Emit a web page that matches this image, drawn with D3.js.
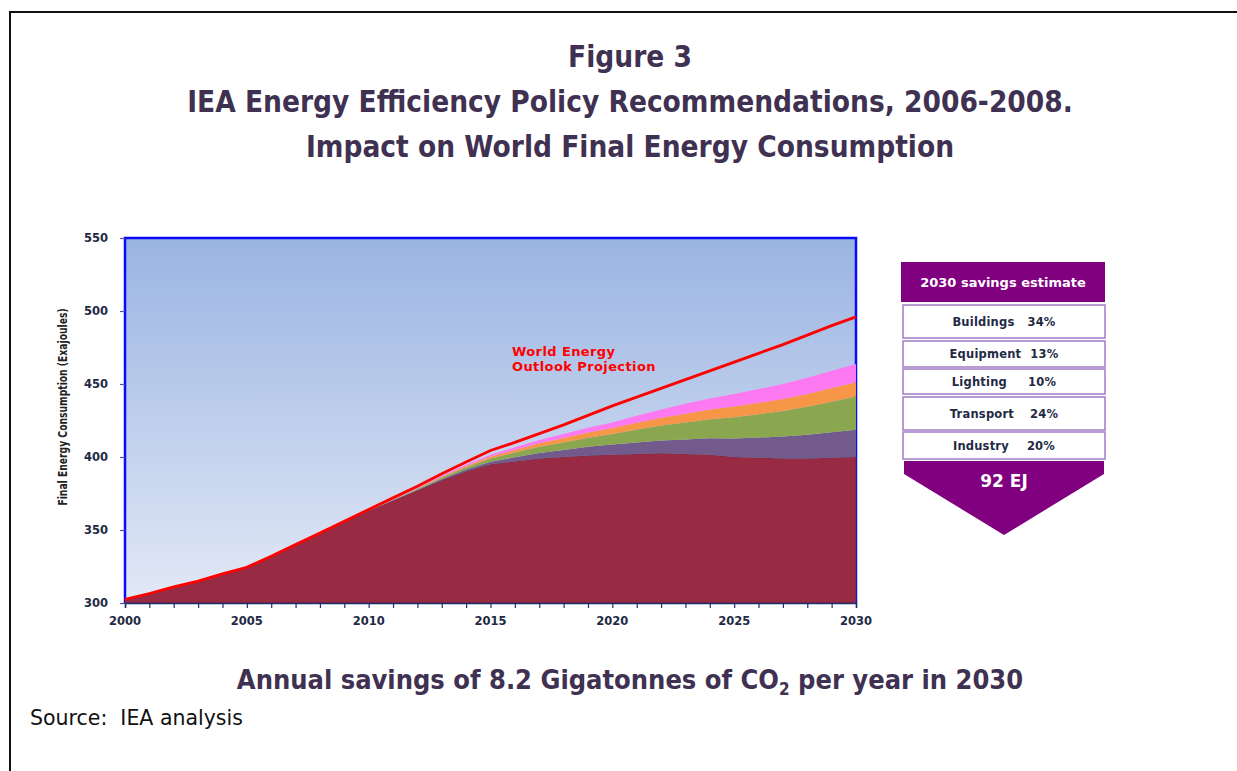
<!DOCTYPE html>
<html>
<head>
<meta charset="utf-8">
<script src="https://cdn.jsdelivr.net/npm/d3@7"></script>
<style>
  html, body { margin: 0; padding: 0; background: #fff; }
  svg { display: block; }
</style>
</head>
<body>
<svg id="chart" width="1237" height="771"></svg>
<script>
// ---------------- DATA ----------------
const years = [2000,2001,2002,2003,2004,2005,2006,2007,2008,2009,2010,2011,2012,2013,2014,2015,
               2016,2017,2018,2019,2020,2021,2022,2023,2024,2025,2026,2027,2028,2029,2030];
// World Energy Outlook projection (red line), EJ
const weoProjection = [302.5,306.5,311,315,320,324.5,332,340,348,356,364,372,380,388.5,396.5,404.5,
                       410,416,422,428.5,435,441,447,453,459,465,471,477,483.5,490,496];
// Remaining consumption after savings (maroon base)
const baseline = [302.5,306.5,311,315,320,324.5,332,340,348,355.5,363,370,377,384,390,395,
                  397,399,400,401,401.5,402,402.5,402,401.5,400,399.5,399,399,399.5,400];
// Savings by sector (stack thickness), EJ
const industry  = [0,0,0,0,0,0,0,0,0,0,0,0.3,0.6,1,1.4,1.8,2.8,3.8,4.8,6,7,8,8.8,10,11.3,12.7,13.8,15,16.2,17.4,18.6];
const transport = [0,0,0,0,0,0,0,0,0,0,0,0.3,0.6,1,1.5,2.2,3.2,4.2,5.2,6.2,7.3,8.8,10.3,11.7,13.1,14.6,16,17.5,19.2,21,22.8];
const lighting  = [0,0,0,0,0,0,0,0,0,0,0,0.2,0.4,0.7,1,1.3,1.8,2.4,3,3.6,4.1,4.7,5.3,6,6.6,7.3,7.8,8.3,8.8,9.3,9.8];
const equipment = [0,0,0,0,0,0,0,0,0,0,0,0.2,0.4,0.7,1,1.3,1.8,2.3,2.8,3.3,3.8,4.8,5.7,6.7,7.6,8.6,9.4,10.2,11,11.8,12.5];

const yTicks = [300,350,400,450,500,550];
const xTickLabels = [2000,2005,2010,2015,2020,2025,2030];

const savingsSectors = ["Buildings","Equipment","Lighting","Transport","Industry"];
const savingsShares  = ["34%","13%","10%","24%","20%"];
const savingsTotal = "92 EJ";

// ---------------- SETUP ----------------
const svg = d3.select("#chart");
const titleColor = "#3f3151";
const condensed = "'DejaVu Sans Condensed', 'DejaVu Sans', sans-serif";
const verdanaLike = "'DejaVu Sans', Verdana, sans-serif";

// outer frame
svg.append("path")
  .attr("d", "M10,771 L10,12 L1237,12")
  .attr("fill", "none").attr("stroke", "#111").attr("stroke-width", 2);

// titles
const titles = [["Figure 3", 67], ["IEA Energy Efficiency Policy Recommendations, 2006-2008.", 112], ["Impact on World Final Energy Consumption", 157]];
titles.forEach(([t, yy]) => {
  svg.append("text").attr("x", 630).attr("y", yy).attr("text-anchor", "middle")
    .attr("font-family", condensed).attr("font-weight", "bold").attr("font-size", 29.5)
    .attr("fill", titleColor).text(t);
});

// ---------------- CHART ----------------
const pLeft = 125, pRight = 856, pTop = 238, pBottom = 603;
const x = d3.scaleLinear().domain([2000, 2030]).range([pLeft, pRight]);
const y = d3.scaleLinear().domain([300, 550]).range([pBottom, pTop]);

const defs = svg.append("defs");
const grad = defs.append("linearGradient").attr("id", "bg").attr("x1", 0).attr("y1", 0).attr("x2", 0).attr("y2", 1);
grad.append("stop").attr("offset", "0%").attr("stop-color", "#9ab4e2");
grad.append("stop").attr("offset", "100%").attr("stop-color", "#e3e9f6");

svg.append("rect").attr("x", pLeft).attr("y", pTop).attr("width", pRight - pLeft).attr("height", pBottom - pTop)
  .attr("fill", "url(#bg)");

// blue plot border (left, top, right)
svg.append("path")
  .attr("d", `M${pLeft},${pBottom} L${pLeft},${pTop} L${pRight},${pTop} L${pRight},${pBottom}`)
  .attr("fill", "none").attr("stroke", "#0a0aff").attr("stroke-width", 2.5);

// stacked areas
const rows = years.map((yr, i) => ({
  year: yr, base: baseline[i], industry: industry[i], transport: transport[i],
  lighting: lighting[i], equipment: equipment[i]
}));
const keys = ["base", "industry", "transport", "lighting", "equipment"];
const colors = { base: "#982a44", industry: "#725a8c", transport: "#8aa64e", lighting: "#f79646", equipment: "#fd79f2" };
const stack = d3.stack().keys(keys).offset(d3.stackOffsetNone);
const series = stack(rows);
const area = d3.area()
  .x(d => x(d.data.year))
  .y0(d => d[0] === 0 ? y(300) : y(d[0]))
  .y1(d => y(d[1]));
svg.append("g").selectAll("path").data(series).join("path")
  .attr("d", area)
  .attr("fill", d => colors[d.key])
  .attr("stroke", d => d.key === "base" ? "#5a2a40" : "none")
  .attr("stroke-width", 0.6);

// red WEO line
svg.append("path")
  .datum(years.map((yr, i) => [yr, weoProjection[i]]))
  .attr("d", d3.line().x(d => x(d[0])).y(d => y(d[1])))
  .attr("fill", "none").attr("stroke", "#ff0000").attr("stroke-width", 2.8);

// label
const lab = svg.append("text").attr("font-family", verdanaLike).attr("font-weight", "bold")
  .attr("font-size", 13).attr("letter-spacing", 0.4).attr("fill", "#ff0000");
lab.append("tspan").attr("x", 512).attr("y", 356).text("World Energy");
lab.append("tspan").attr("x", 512).attr("y", 371).text("Outlook Projection");

// x axis
const xAxis = d3.axisBottom(x).tickValues(d3.range(2000, 2031)).tickSize(5).tickFormat("");
const gx = svg.append("g").attr("transform", `translate(0,${pBottom})`).call(xAxis);
gx.select(".domain").attr("stroke", "#1f2d6d").attr("stroke-width", 1.5);
gx.selectAll(".tick line").attr("stroke", "#1f2d6d").attr("stroke-width", 1.2);
svg.append("g").selectAll("text").data(xTickLabels).join("text")
  .attr("x", d => x(d)).attr("y", 625).attr("text-anchor", "middle")
  .attr("font-family", verdanaLike).attr("font-weight", "bold").attr("font-size", 11.5)
  .attr("fill", "#1f2a44").text(d => d);

// y axis
const yAxis = d3.axisLeft(y).tickValues(yTicks).tickSize(5).tickFormat(d => d);
const gy = svg.append("g").attr("transform", `translate(${pLeft},0)`).call(yAxis);
gy.select(".domain").remove();
gy.selectAll(".tick line").attr("stroke", "#5050b0").attr("stroke-width", 1.2);
gy.selectAll(".tick text").attr("x", -17)
  .attr("font-family", verdanaLike).attr("font-weight", "bold").attr("font-size", 11.5)
  .attr("fill", "#1f2a44");

// y axis title (narrow font emulated by horizontal compression)
svg.append("text")
  .attr("transform", "translate(67,407) rotate(-90) scale(0.84,1)")
  .attr("text-anchor", "middle")
  .attr("font-family", condensed)
  .attr("font-weight", "bold").attr("font-size", 12.2).attr("fill", "#222")
  .text("Final Energy Consumption (Exajoules)");

// ---------------- SAVINGS PANEL ----------------
const purple = "#800080";
svg.append("rect").attr("x", 901).attr("y", 262).attr("width", 204).attr("height", 40).attr("fill", purple);
svg.append("text").attr("x", 1003).attr("y", 287).attr("text-anchor", "middle")
  .attr("font-family", verdanaLike).attr("font-weight", "bold").attr("font-size", 13)
  .attr("fill", "#fff").text("2030 savings estimate");

const boxes = [[305, 338], [341, 367], [369, 394], [397, 430], [432, 459]];
const gaps = [13, 9, 21, 16, 18];
savingsSectors.forEach((s, i) => {
  const [y0, y1] = boxes[i];
  svg.append("rect").attr("x", 903).attr("y", y0).attr("width", 202).attr("height", y1 - y0)
    .attr("fill", "#fff").attr("stroke", "#a07cc6").attr("stroke-width", 1.5);
  const t = svg.append("text").attr("x", 1004).attr("y", (y0 + y1) / 2 + 4).attr("text-anchor", "middle")
    .attr("font-family", verdanaLike).attr("font-weight", "bold").attr("font-size", 11.5)
    .attr("letter-spacing", 0.2).attr("fill", "#1f2a44");
  t.append("tspan").text(s);
  t.append("tspan").attr("dx", gaps[i]).text(savingsShares[i]);
});

svg.append("path").attr("d", "M904,461 L1104,461 L1104,474 L1004,535 L904,474 Z").attr("fill", purple);
svg.append("text").attr("x", 1004).attr("y", 487).attr("text-anchor", "middle")
  .attr("font-family", verdanaLike).attr("font-weight", "bold").attr("font-size", 17)
  .attr("fill", "#fff").text(savingsTotal);

// ---------------- FOOTER ----------------
const foot = svg.append("text").attr("x", 630).attr("y", 689).attr("text-anchor", "middle")
  .attr("font-family", condensed).attr("font-weight", "bold").attr("font-size", 27)
  .attr("fill", titleColor);
foot.append("tspan").text("Annual savings of 8.2 Gigatonnes of CO");
foot.append("tspan").attr("font-size", 17).attr("dy", 6).text("2");
foot.append("tspan").attr("dy", -6).text(" per year in 2030");

svg.append("text").attr("x", 30).attr("y", 725)
  .attr("font-family", verdanaLike).attr("font-size", 20.5).attr("fill", "#111")
  .attr("xml:space", "preserve").text("Source:  IEA analysis");
</script>
</body>
</html>
